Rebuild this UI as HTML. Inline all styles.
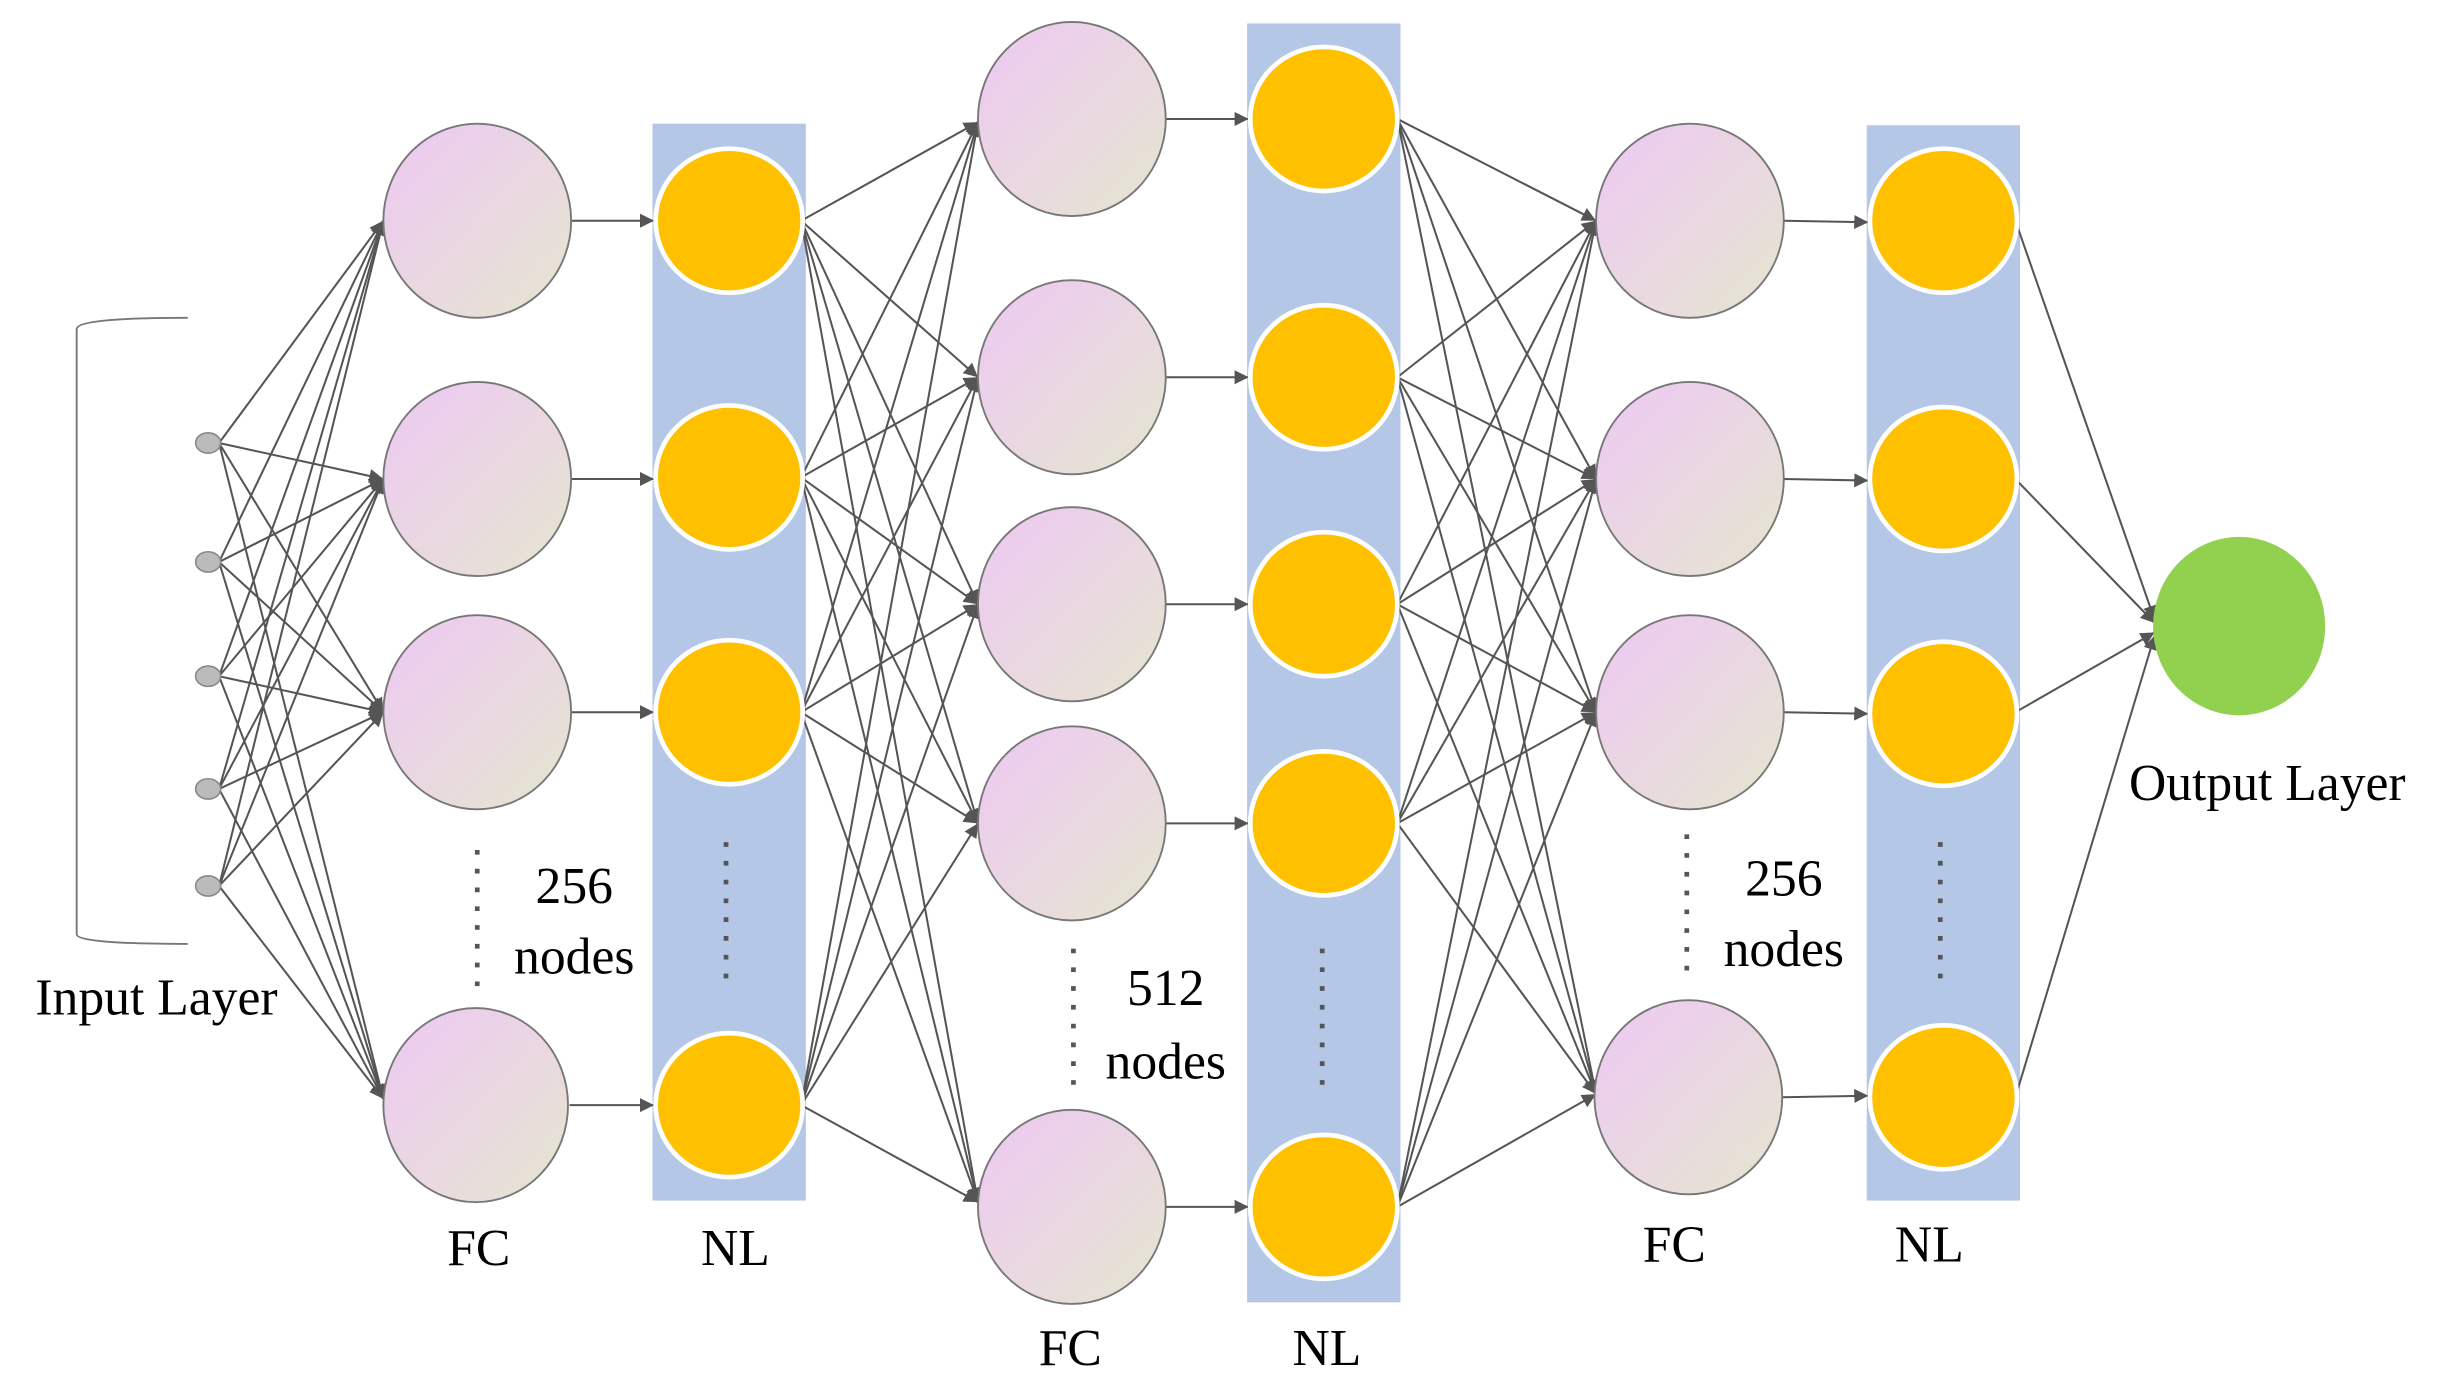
<!DOCTYPE html>
<html><head><meta charset="utf-8"><style>
html,body{margin:0;padding:0;background:#fff;}
svg{display:block;}
text{font-family:"Liberation Serif",serif;fill:#000;}
</style></head><body>
<svg width="2441" height="1390" viewBox="0 0 1560 888" preserveAspectRatio="none" xmlns="http://www.w3.org/2000/svg">
<defs>
<linearGradient id="pk" x1="0" y1="0" x2="1" y2="1">
<stop offset="0" stop-color="#eec8f4"/><stop offset="1" stop-color="#e5e6cf"/>
</linearGradient>
<marker id="a" viewBox="0 0 10 10" refX="10" refY="5" markerWidth="9" markerHeight="9" markerUnits="userSpaceOnUse" orient="auto">
<path d="M0,0 L10,5 L0,10 z" fill="#555"/>
</marker>
</defs>

<!-- NL backgrounds -->
<rect x="417" y="79" width="98" height="688" fill="#b4c7e7"/>
<rect x="797" y="15" width="98" height="817" fill="#b4c7e7"/>
<rect x="1193" y="80" width="98" height="687" fill="#b4c7e7"/>

<!-- bracket -->
<path d="M120,203 Q50,203 49,210 L49,597 Q50,603 120,603" fill="none" stroke="#777" stroke-width="1.2"/>

<g stroke="#555" stroke-width="1.3" fill="none" marker-end="url(#a)">
<!-- input -> FC1 -->
<line x1="140" y1="283" x2="245" y2="141"/><line x1="140" y1="283" x2="245" y2="306"/><line x1="140" y1="283" x2="245" y2="455"/><line x1="140" y1="283" x2="245" y2="702"/>
<line x1="140" y1="359" x2="245" y2="141"/><line x1="140" y1="359" x2="245" y2="306"/><line x1="140" y1="359" x2="245" y2="455"/><line x1="140" y1="359" x2="245" y2="702"/>
<line x1="140" y1="432" x2="245" y2="141"/><line x1="140" y1="432" x2="245" y2="306"/><line x1="140" y1="432" x2="245" y2="455"/><line x1="140" y1="432" x2="245" y2="702"/>
<line x1="140" y1="504" x2="245" y2="141"/><line x1="140" y1="504" x2="245" y2="306"/><line x1="140" y1="504" x2="245" y2="455"/><line x1="140" y1="504" x2="245" y2="702"/>
<line x1="140" y1="566" x2="245" y2="141"/><line x1="140" y1="566" x2="245" y2="306"/><line x1="140" y1="566" x2="245" y2="455"/><line x1="140" y1="566" x2="245" y2="702"/>
<!-- FC1 -> NL1 -->
<line x1="365" y1="141" x2="418" y2="141"/><line x1="365" y1="306" x2="418" y2="306"/><line x1="365" y1="455" x2="418" y2="455"/><line x1="364" y1="706" x2="418" y2="706"/>
<!-- NL1 -> FC2 -->
<line x1="512" y1="141" x2="625" y2="78"/><line x1="512" y1="141" x2="625" y2="241"/><line x1="512" y1="141" x2="625" y2="386"/><line x1="512" y1="141" x2="625" y2="526"/><line x1="512" y1="141" x2="625" y2="768"/>
<line x1="512" y1="305" x2="625" y2="78"/><line x1="512" y1="305" x2="625" y2="241"/><line x1="512" y1="305" x2="625" y2="386"/><line x1="512" y1="305" x2="625" y2="526"/><line x1="512" y1="305" x2="625" y2="768"/>
<line x1="512" y1="455" x2="625" y2="78"/><line x1="512" y1="455" x2="625" y2="241"/><line x1="512" y1="455" x2="625" y2="386"/><line x1="512" y1="455" x2="625" y2="526"/><line x1="512" y1="455" x2="625" y2="768"/>
<line x1="512" y1="706" x2="625" y2="78"/><line x1="512" y1="706" x2="625" y2="241"/><line x1="512" y1="706" x2="625" y2="386"/><line x1="512" y1="706" x2="625" y2="526"/><line x1="512" y1="706" x2="625" y2="768"/>
<!-- FC2 -> NL2 -->
<line x1="745" y1="76" x2="798" y2="76"/><line x1="745" y1="241" x2="798" y2="241"/><line x1="745" y1="386" x2="798" y2="386"/><line x1="745" y1="526" x2="798" y2="526"/><line x1="745" y1="771" x2="798" y2="771"/>
<!-- NL2 -> FC3 -->
<line x1="893" y1="76" x2="1020" y2="141"/><line x1="893" y1="76" x2="1020" y2="306"/><line x1="893" y1="76" x2="1020" y2="455"/><line x1="893" y1="76" x2="1020" y2="699"/>
<line x1="893" y1="241" x2="1020" y2="141"/><line x1="893" y1="241" x2="1020" y2="306"/><line x1="893" y1="241" x2="1020" y2="455"/><line x1="893" y1="241" x2="1020" y2="699"/>
<line x1="893" y1="386" x2="1020" y2="141"/><line x1="893" y1="386" x2="1020" y2="306"/><line x1="893" y1="386" x2="1020" y2="455"/><line x1="893" y1="386" x2="1020" y2="699"/>
<line x1="893" y1="526" x2="1020" y2="141"/><line x1="893" y1="526" x2="1020" y2="306"/><line x1="893" y1="526" x2="1020" y2="455"/><line x1="893" y1="526" x2="1020" y2="699"/>
<line x1="893" y1="771" x2="1020" y2="141"/><line x1="893" y1="771" x2="1020" y2="306"/><line x1="893" y1="771" x2="1020" y2="455"/><line x1="893" y1="771" x2="1020" y2="699"/>
<!-- FC3 -> NL3 -->
<line x1="1140" y1="141" x2="1194" y2="142"/><line x1="1140" y1="306" x2="1194" y2="307"/><line x1="1140" y1="455" x2="1194" y2="456"/><line x1="1139" y1="701" x2="1194" y2="700"/>
<!-- NL3 -> output -->
<line x1="1288" y1="141" x2="1377" y2="396"/><line x1="1288" y1="306" x2="1377" y2="398"/><line x1="1288" y1="455" x2="1377" y2="404"/><line x1="1288" y1="701" x2="1377" y2="406"/>
</g>

<!-- input dots -->
<g fill="#bbb" stroke="#888" stroke-width="1">
<ellipse cx="133" cy="283" rx="8" ry="6.5"/><ellipse cx="133" cy="359" rx="8" ry="6.5"/><ellipse cx="133" cy="432" rx="8" ry="6.5"/><ellipse cx="133" cy="504" rx="8" ry="6.5"/><ellipse cx="133" cy="566" rx="8" ry="6.5"/>
</g>

<!-- FC nodes -->
<g fill="url(#pk)" stroke="#777" stroke-width="1.2">
<ellipse cx="305" cy="141" rx="60" ry="62"/><ellipse cx="305" cy="306" rx="60" ry="62"/><ellipse cx="305" cy="455" rx="60" ry="62"/><ellipse cx="304" cy="706" rx="59" ry="62"/>
<ellipse cx="685" cy="76" rx="60" ry="62"/><ellipse cx="685" cy="241" rx="60" ry="62"/><ellipse cx="685" cy="386" rx="60" ry="62"/><ellipse cx="685" cy="526" rx="60" ry="62"/><ellipse cx="685" cy="771" rx="60" ry="62"/>
<ellipse cx="1080" cy="141" rx="60" ry="62"/><ellipse cx="1080" cy="306" rx="60" ry="62"/><ellipse cx="1080" cy="455" rx="60" ry="62"/><ellipse cx="1079" cy="701" rx="60" ry="62"/>
</g>

<!-- NL nodes -->
<g fill="#ffc000" stroke="#fff" stroke-width="3">
<ellipse cx="466" cy="141" rx="47" ry="46"/><ellipse cx="466" cy="305" rx="47" ry="46"/><ellipse cx="466" cy="455" rx="47" ry="46"/><ellipse cx="466" cy="706" rx="47" ry="46"/>
<ellipse cx="846" cy="76" rx="47" ry="46"/><ellipse cx="846" cy="241" rx="47" ry="46"/><ellipse cx="846" cy="386" rx="47" ry="46"/><ellipse cx="846" cy="526" rx="47" ry="46"/><ellipse cx="846" cy="771" rx="47" ry="46"/>
<ellipse cx="1242" cy="141" rx="47" ry="46"/><ellipse cx="1242" cy="306" rx="47" ry="46"/><ellipse cx="1242" cy="456" rx="47" ry="46"/><ellipse cx="1242" cy="701" rx="47" ry="46"/>
</g>

<!-- output -->
<ellipse cx="1431" cy="400" rx="55" ry="57" fill="#92d050"/>

<!-- dotted -->
<g stroke="#555" stroke-width="3" stroke-dasharray="3,9">
<line x1="305" y1="543" x2="305" y2="636"/>
<line x1="464" y1="538" x2="464" y2="630"/>
<line x1="686" y1="606" x2="686" y2="698"/>
<line x1="845" y1="606" x2="845" y2="698"/>
<line x1="1078" y1="533" x2="1078" y2="628"/>
<line x1="1240" y1="538" x2="1240" y2="630"/>
</g>

<g font-size="33" text-anchor="middle">
<text x="367" y="577">256</text><text x="367" y="622">nodes</text>
<text x="745" y="642">512</text><text x="745" y="689">nodes</text>
<text x="1140" y="572">256</text><text x="1140" y="617">nodes</text>
<text x="100" y="648">Input Layer</text>
<text x="1449" y="511">Output Layer</text>
<text x="306" y="808">FC</text><text x="470" y="808">NL</text>
<text x="684" y="872">FC</text><text x="848" y="872">NL</text>
<text x="1070" y="806">FC</text><text x="1233" y="806">NL</text>
</g>
</svg>
</body></html>
